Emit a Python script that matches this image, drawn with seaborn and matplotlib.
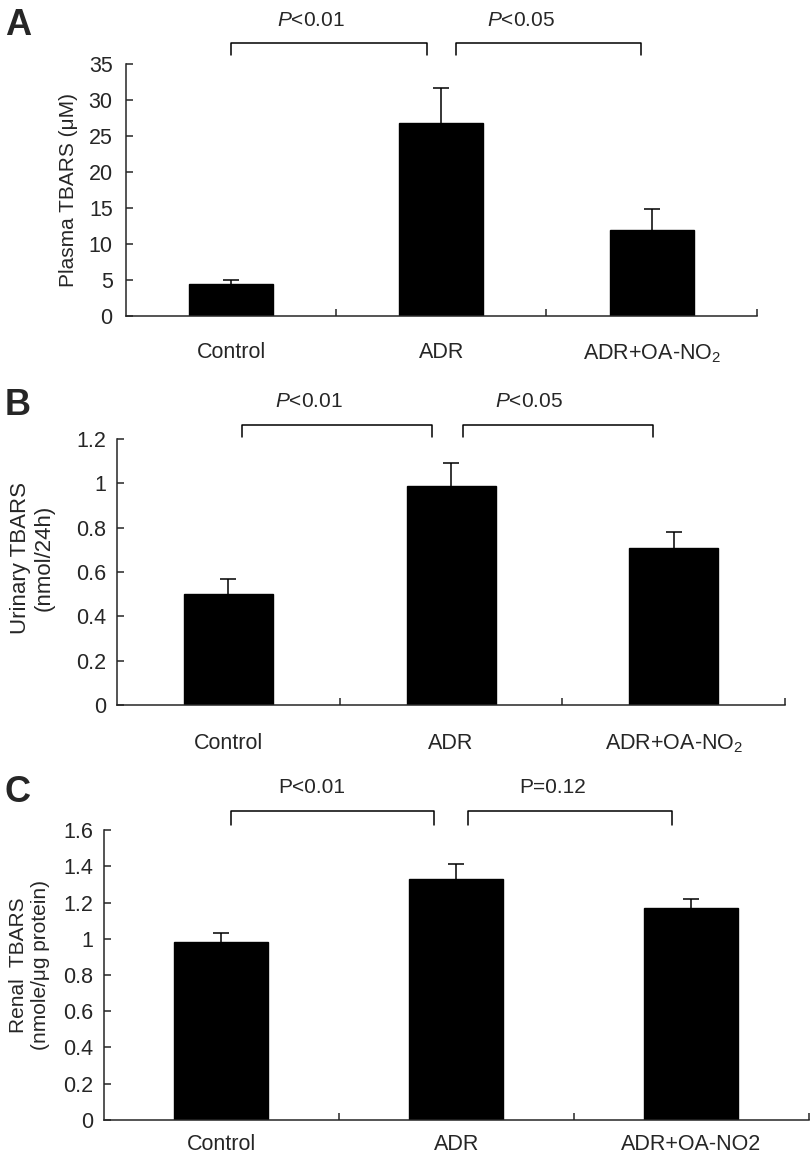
# -*- coding: utf-8 -*-
import matplotlib
matplotlib.use("Agg")
import matplotlib.pyplot as plt
import seaborn as sns
import pandas as pd

sns.set_style("ticks")
plt.rcParams['font.family'] = ['Liberation Sans', 'DejaVu Sans']
plt.rcParams['mathtext.fontset'] = 'custom'
plt.rcParams['mathtext.rm'] = 'Liberation Sans'
plt.rcParams['mathtext.it'] = 'Liberation Sans:italic'
plt.rcParams['axes.linewidth'] = 1.1

groups = ['Control', 'ADR', 'ADR+OA-NO2']
labels_ab = ['Control', 'ADR', 'ADR+OA-NO$_2$']
labels_c = ['Control', 'ADR', 'ADR+OA-NO2']

plasma = [4.4, 26.8, 11.9]
plasma_err = [0.6, 4.9, 3.0]
urinary = [0.50, 0.99, 0.71]
urinary_err = [0.07, 0.10, 0.07]
renal = [0.98, 1.33, 1.17]
renal_err = [0.05, 0.08, 0.05]


def bracket(ax, x0, x1, y, ybot, label, xt, yt):
    ax.plot([x0, x0, x1, x1], [ybot, y, y, ybot], color='black', lw=1.1, clip_on=False)
    ax.text(xt, yt, label, ha='center', va='center', fontsize=15, clip_on=False)


def panel(rect, vals, errs, xlabels, ymax, ystep, ylabel, ylsize, yl_x, yl_y, xpad, ypad, fmt):
    ax = fig.add_axes(rect)
    df = pd.DataFrame({'group': groups, 'value': vals})
    sns.barplot(data=df, x='group', y='value', color='black', width=0.4,
                errorbar=None, edgecolor='black', saturation=1, ax=ax)
    eb = ax.errorbar(x=[0, 1, 2], y=vals, yerr=[[0, 0, 0], errs], fmt='none',
                     ecolor='black', elinewidth=1.1, capsize=6, capthick=1.1)
    eb[1][0].set_visible(False)  # no lower cap
    ax.set_xlim(-0.5, 2.5)
    ax.set_ylim(0, ymax)
    ticks = [i * ystep for i in range(int(round(ymax / ystep)) + 1)]
    ax.set_yticks(ticks)
    ax.set_yticklabels([fmt(t) for t in ticks])
    ax.set_xticks([0, 1, 2])
    ax.set_xticklabels(xlabels)
    ax.set_xticks([0.5, 1.5, 2.5], minor=True)
    ax.tick_params(axis='x', which='major', length=0, pad=xpad, labelsize=15.5)
    ax.tick_params(axis='x', which='minor', direction='in', length=5, width=1.1)
    ax.tick_params(axis='y', direction='in', length=5, width=1.1, pad=ypad, labelsize=15.5)
    ax.set_xlabel('')
    ax.set_ylabel(ylabel, fontsize=ylsize)
    ax.yaxis.set_label_coords(yl_x, yl_y)
    sns.despine(ax=ax)
    return ax


def fmt_int(t):
    return '%d' % round(t)


def fmt_dec(t):
    s = '%.1f' % t
    if s.endswith('.0'):
        s = s[:-2]
    return s


fig = plt.figure(figsize=(8.12, 11.57), dpi=100)

# A
axA = panel([0.155, 0.7269, 0.777, 0.2178], plasma, plasma_err, labels_ab, 35, 5,
            'Plasma TBARS (μM)', 15, -0.076, 0.5, 19, 9.5, fmt_int)
bracket(axA, 0.0, 0.93, 37.9, 36.2, r'$\it{P}$<0.01', 0.38, 41.1)
bracket(axA, 1.07, 1.95, 37.9, 36.2, r'$\it{P}$<0.05', 1.38, 41.1)

# B
axB = panel([0.144, 0.3907, 0.823, 0.2299], urinary, urinary_err, labels_ab, 1.2, 0.2,
            'Urinary TBARS\n(nmol/24h)', 16, -0.093, 0.553, 20, 8, fmt_dec)
bracket(axB, 0.06, 0.915, 1.264, 1.21, r'$\it{P}$<0.01', 0.36, 1.368)
bracket(axB, 1.055, 1.905, 1.264, 1.21, r'$\it{P}$<0.05', 1.35, 1.368)

# C
axC = panel([0.128, 0.032, 0.868, 0.2506], renal, renal_err, labels_c, 1.6, 0.2,
            'Renal  TBARS\n(nmole/μg protein)', 15, -0.077, 0.534, 10, 8, fmt_dec)
bracket(axC, 0.04, 0.905, 1.703, 1.626, 'P<0.01', 0.385, 1.836)
bracket(axC, 1.05, 1.917, 1.703, 1.626, 'P=0.12', 1.41, 1.836)

for letter, y in [('A', 0.9697), ('B', 0.6413), ('C', 0.3068)]:
    fig.text(0.006, y, letter, fontsize=26, fontweight='bold', va='baseline', ha='left')

fig.savefig('out.png', dpi=100)
